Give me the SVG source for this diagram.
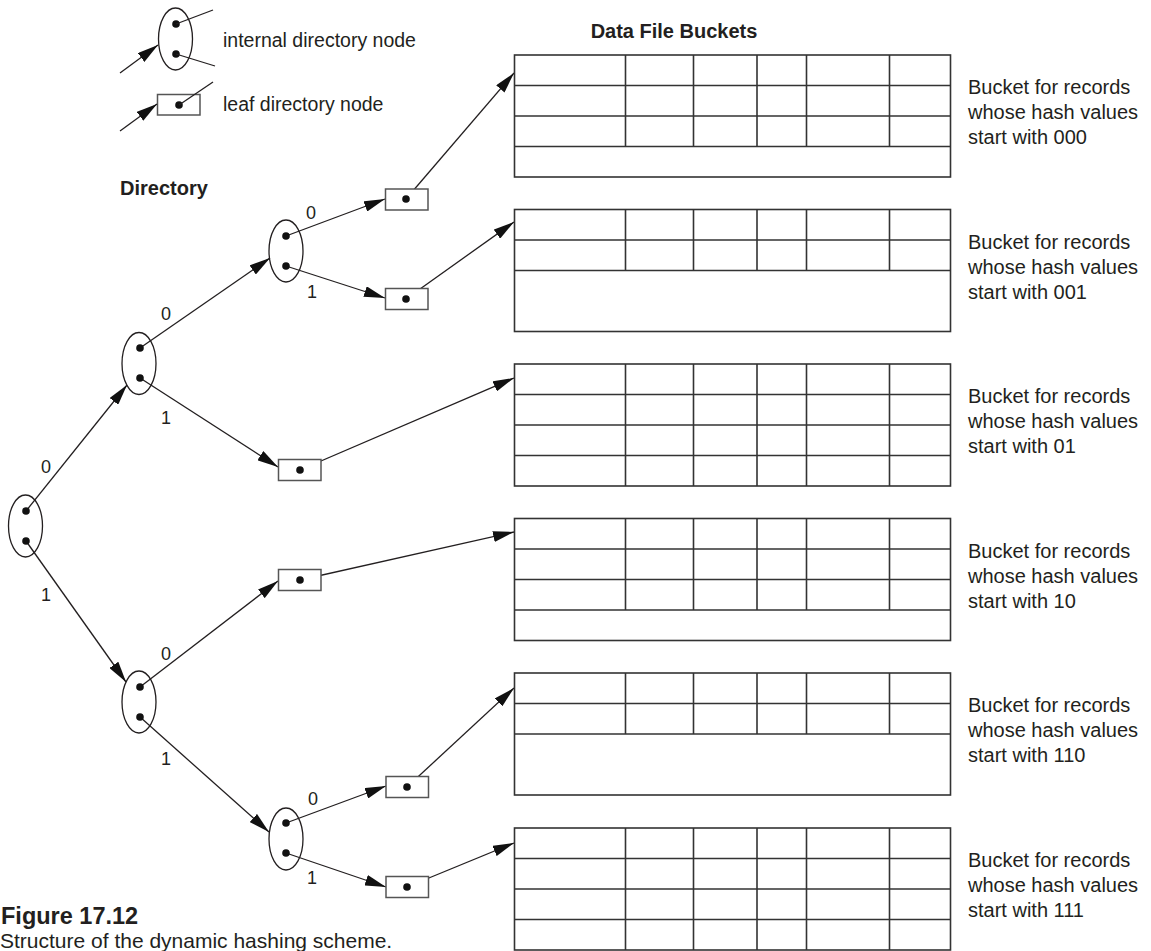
<svg xmlns="http://www.w3.org/2000/svg" width="1151" height="951" viewBox="0 0 1151 951">
<style>
text{font-family:"Liberation Sans",Arial,Helvetica,sans-serif;fill:#231f20}
.lbl{font-size:18px;text-anchor:middle}
.t{font-size:20px}
.lg{font-size:19.5px}
.b{font-weight:bold}
.ell{fill:none;stroke:#231f20;stroke-width:1.3}
.leaf{fill:#fff;stroke:#555;stroke-width:1.5}
.dot{fill:#111}
.e{stroke:#231f20;stroke-width:1.3;fill:none}
.a{stroke:#231f20;stroke-width:1.3;fill:none;marker-end:url(#ah)}
.bk{fill:none;stroke:#333;stroke-width:1.6}
</style>
<defs>
<marker id="ah" viewBox="0 0 21 11" refX="21" refY="5.5" markerWidth="21" markerHeight="11" markerUnits="userSpaceOnUse" orient="auto">
<path d="M0,0 L21,5.5 L0,11 z" fill="#111"/>
</marker>
</defs>
<rect width="1151" height="951" fill="#fff"/>

<g id="legend">
<ellipse class="ell" cx="175.5" cy="39" rx="17" ry="31"/>
<circle class="dot" cx="176" cy="24" r="3.8"/>
<circle class="dot" cx="176" cy="54" r="3.8"/>
<line class="e" x1="176" y1="24" x2="213" y2="10"/>
<line class="e" x1="176" y1="54" x2="215" y2="66"/>
<line class="a" x1="120" y1="73" x2="158" y2="45"/>
<text class="lg" x="223" y="46.5">internal directory node</text>
<rect class="leaf" x="157.5" y="94.5" width="42.5" height="20.5"/>
<circle class="dot" cx="179" cy="105" r="3.8"/>
<line class="e" x1="179" y1="105" x2="213" y2="82"/>
<line class="a" x1="120" y1="131" x2="157" y2="104"/>
<text class="lg" x="223" y="111">leaf directory node</text>
</g>

<text class="t b" x="120" y="195">Directory</text>
<text class="t b" x="674" y="38" text-anchor="middle">Data File Buckets</text>

<g id="connectors">
<line class="a" x1="26" y1="511" x2="127" y2="385"/>
<line class="a" x1="26" y1="541" x2="126" y2="682"/>
<line class="a" x1="140" y1="348" x2="270" y2="258"/>
<line class="a" x1="140" y1="378" x2="278" y2="467"/>
<line class="a" x1="140" y1="687" x2="278" y2="581"/>
<line class="a" x1="140" y1="717" x2="269" y2="832"/>
<line class="a" x1="286" y1="236" x2="385" y2="199"/>
<line class="a" x1="286" y1="266" x2="385" y2="298"/>
<line class="a" x1="286" y1="823" x2="386" y2="786"/>
<line class="a" x1="286" y1="853" x2="386" y2="887"/>
<line class="a" x1="406" y1="199" x2="514" y2="73"/>
<line class="a" x1="406" y1="299" x2="514" y2="222"/>
<line class="a" x1="300" y1="470" x2="514" y2="378"/>
<line class="a" x1="300" y1="580" x2="514" y2="532"/>
<line class="a" x1="407" y1="787" x2="514" y2="688"/>
<line class="a" x1="407" y1="887" x2="514" y2="843"/>
</g>

<g id="edge-labels">
<text class="lbl" x="46" y="473">0</text>
<text class="lbl" x="46" y="601">1</text>
<text class="lbl" x="166" y="320">0</text>
<text class="lbl" x="166" y="424">1</text>
<text class="lbl" x="166" y="660">0</text>
<text class="lbl" x="166" y="765">1</text>
<text class="lbl" x="311" y="219">0</text>
<text class="lbl" x="312" y="298">1</text>
<text class="lbl" x="313" y="805">0</text>
<text class="lbl" x="312" y="884">1</text>
</g>

<g id="root">
<ellipse class="ell" cx="25.5" cy="526" rx="17" ry="31"/>
<circle class="dot" cx="26" cy="511" r="3.8"/>
<circle class="dot" cx="26" cy="541" r="3.8"/>
</g>
<g id="n0">
<ellipse class="ell" cx="139" cy="363.5" rx="17" ry="31"/>
<circle class="dot" cx="140" cy="348" r="3.8"/>
<circle class="dot" cx="140" cy="378" r="3.8"/>
</g>
<g id="n1">
<ellipse class="ell" cx="139" cy="702" rx="17" ry="31"/>
<circle class="dot" cx="140" cy="687" r="3.8"/>
<circle class="dot" cx="140" cy="717" r="3.8"/>
</g>
<g id="n00">
<ellipse class="ell" cx="286" cy="251" rx="17" ry="31"/>
<circle class="dot" cx="286" cy="236" r="3.8"/>
<circle class="dot" cx="286" cy="266" r="3.8"/>
</g>
<g id="n11">
<ellipse class="ell" cx="286" cy="839" rx="17" ry="31"/>
<circle class="dot" cx="286" cy="823" r="3.8"/>
<circle class="dot" cx="286" cy="853" r="3.8"/>
</g>

<g id="leaf000"><rect class="leaf" x="385.5" y="189" width="42.5" height="21"/><circle class="dot" cx="406" cy="199" r="3.8"/></g>
<g id="leaf001"><rect class="leaf" x="385.5" y="288.5" width="42.5" height="21"/><circle class="dot" cx="406" cy="299" r="3.8"/></g>
<g id="leaf01"><rect class="leaf" x="278.5" y="459.5" width="42.5" height="21"/><circle class="dot" cx="300" cy="470" r="3.8"/></g>
<g id="leaf10"><rect class="leaf" x="278.5" y="569.5" width="42.5" height="21"/><circle class="dot" cx="300" cy="580" r="3.8"/></g>
<g id="leaf110"><rect class="leaf" x="386" y="776.5" width="42.5" height="21"/><circle class="dot" cx="407" cy="787" r="3.8"/></g>
<g id="leaf111"><rect class="leaf" x="386" y="876.5" width="42.5" height="21"/><circle class="dot" cx="407" cy="887" r="3.8"/></g>

<g id="bucket000">
<rect class="bk" x="514.5" y="55" width="436" height="122"/>
<path class="bk" d="M514.5,85.5H950.5M514.5,116H950.5M514.5,146.5H950.5M625.5,55V146.5M693.5,55V146.5M757,55V146.5M806.5,55V146.5M889.5,55V146.5"/>
<text class="t" x="968" y="94">Bucket for records</text>
<text class="t" x="968" y="119">whose hash values</text>
<text class="t" x="968" y="144">start with 000</text>
</g>
<g id="bucket001">
<rect class="bk" x="514.5" y="209.5" width="436" height="122"/>
<path class="bk" d="M514.5,240H950.5M514.5,270.5H950.5M625.5,209.5V270.5M693.5,209.5V270.5M757,209.5V270.5M806.5,209.5V270.5M889.5,209.5V270.5"/>
<text class="t" x="968" y="248.5">Bucket for records</text>
<text class="t" x="968" y="273.5">whose hash values</text>
<text class="t" x="968" y="298.5">start with 001</text>
</g>
<g id="bucket01">
<rect class="bk" x="514.5" y="364" width="436" height="122"/>
<path class="bk" d="M514.5,394.5H950.5M514.5,425H950.5M514.5,455.5H950.5M625.5,364V486M693.5,364V486M757,364V486M806.5,364V486M889.5,364V486"/>
<text class="t" x="968" y="403">Bucket for records</text>
<text class="t" x="968" y="428">whose hash values</text>
<text class="t" x="968" y="453">start with 01</text>
</g>
<g id="bucket10">
<rect class="bk" x="514.5" y="518.5" width="436" height="122"/>
<path class="bk" d="M514.5,549H950.5M514.5,579.5H950.5M514.5,610H950.5M625.5,518.5V610M693.5,518.5V610M757,518.5V610M806.5,518.5V610M889.5,518.5V610"/>
<text class="t" x="968" y="557.5">Bucket for records</text>
<text class="t" x="968" y="582.5">whose hash values</text>
<text class="t" x="968" y="607.5">start with 10</text>
</g>
<g id="bucket110">
<rect class="bk" x="514.5" y="673" width="436" height="122"/>
<path class="bk" d="M514.5,703.5H950.5M514.5,734H950.5M625.5,673V734M693.5,673V734M757,673V734M806.5,673V734M889.5,673V734"/>
<text class="t" x="968" y="712">Bucket for records</text>
<text class="t" x="968" y="737">whose hash values</text>
<text class="t" x="968" y="762">start with 110</text>
</g>
<g id="bucket111">
<rect class="bk" x="514.5" y="828" width="436" height="122"/>
<path class="bk" d="M514.5,858.5H950.5M514.5,889H950.5M514.5,919.5H950.5M625.5,828V950M693.5,828V950M757,828V950M806.5,828V950M889.5,828V950"/>
<text class="t" x="968" y="867">Bucket for records</text>
<text class="t" x="968" y="892">whose hash values</text>
<text class="t" x="968" y="917">start with 111</text>
</g>

<g id="caption">
<text x="1" y="924" style="font-size:23.5px;font-weight:bold">Figure 17.12</text>
<text x="0" y="948" style="font-size:21px">Structure of the dynamic hashing scheme.</text>
</g>
</svg>
